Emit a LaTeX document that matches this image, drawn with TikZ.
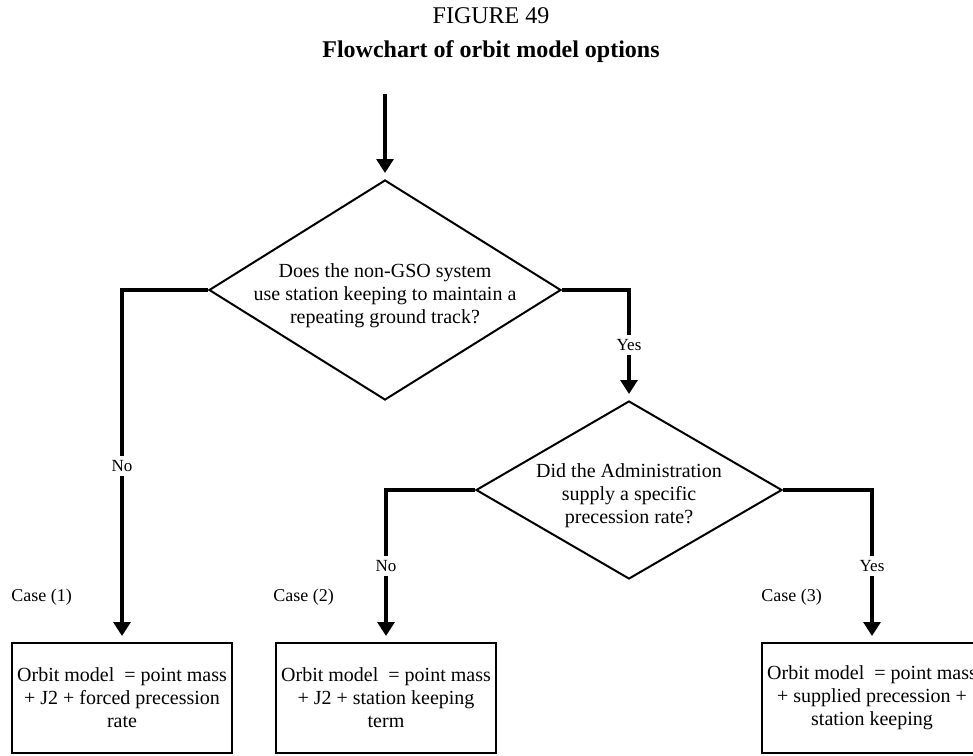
\documentclass[tikz,border=0pt]{standalone}
\usepackage{fontspec}
\setmainfont{Liberation Serif}
\usetikzlibrary{arrows.meta,positioning,calc,shapes.geometric}
\tikzset{
  >=Triangle,
  every node/.append style={font=\fontsize{10}{11.5}\selectfont},
}
\tikzset{
  ask/.style={draw, diamond, line width=1pt, inner sep=0pt},
  asktext/.style={align=center, inner sep=0pt},
  outcome/.style={draw, rectangle, line width=1pt, minimum width=110pt, minimum height=55pt, align=center, inner sep=1pt},
  flow/.style={-{Triangle[length=7pt,width=8.5pt]}, line width=1.6pt, shorten >=3pt},
  answer/.style={fill=white, inner sep=2pt, font=\fontsize{8.5}{10}\selectfont},
  caselbl/.style={anchor=west, inner sep=0pt, font=\fontsize{9}{10}\selectfont}
}

\begin{document}
\begin{tikzpicture}[x=0.5pt, y=-0.5pt]
% page frame, third result box runs off the right edge
\useasboundingbox (0,0) rectangle (973,755);
\clip (0,0) rectangle (973,755);

% Heading
\node (figno) at (491,16) {\fontsize{12}{14}\selectfont FIGURE 49};
\node (title) at (491,52) {\fontsize{12}{14}\selectfont\bfseries Flowchart of orbit model options};

% Decisions
\coordinate (entry) at (385,94);
\node[ask, minimum width=176pt, minimum height=110pt] (ask1) at (385,290) {};
\node[asktext, yshift=-3pt] (ask1txt) at (ask1.center) {Does the non-GSO system\\use station keeping to maintain a\\repeating ground track?};
\node[ask, minimum width=153pt, minimum height=89pt] (ask2) at (629,490) {};
\node[asktext, yshift=-3pt] (ask2txt) at (ask2.center) {Did the Administration\\supply a specific\\precession rate?};

% Resulting orbit models
\node[outcome] (res1) at (122,698) {Orbit model~ = point mass\\+ J2 + forced precession\\rate};
\node[outcome] (res2) at (386,698) {Orbit model~ = point mass\\+ J2 + station keeping\\term};
\node[outcome] (res3) at (872,698) {Orbit model~ = point mass\\+ supplied precession +\\station keeping};

\node[caselbl] (case1) at ($(res1.north west)+(0,-45)$) {Case (1)};
\node[caselbl] (case2) at ($(res2.north west)+(-2,-45)$) {Case (2)};
\node[caselbl] (case3) at ($(res3.north west)+(0,-45)$) {Case (3)};

% Flow lines
\draw[flow] (entry) -- (ask1.north);
\draw[flow] (ask1.west) -| node[answer, pos=0.75] {No} (res1.north);
\draw[flow] (ask1.east) -| node[answer, pos=0.75] {Yes} (ask2.north);
\draw[flow] (ask2.west) -| node[answer, pos=0.75] {No} (res2.north);
\draw[flow] (ask2.east) -| node[answer, pos=0.75] {Yes} (res3.north);

\end{tikzpicture}
\end{document}
